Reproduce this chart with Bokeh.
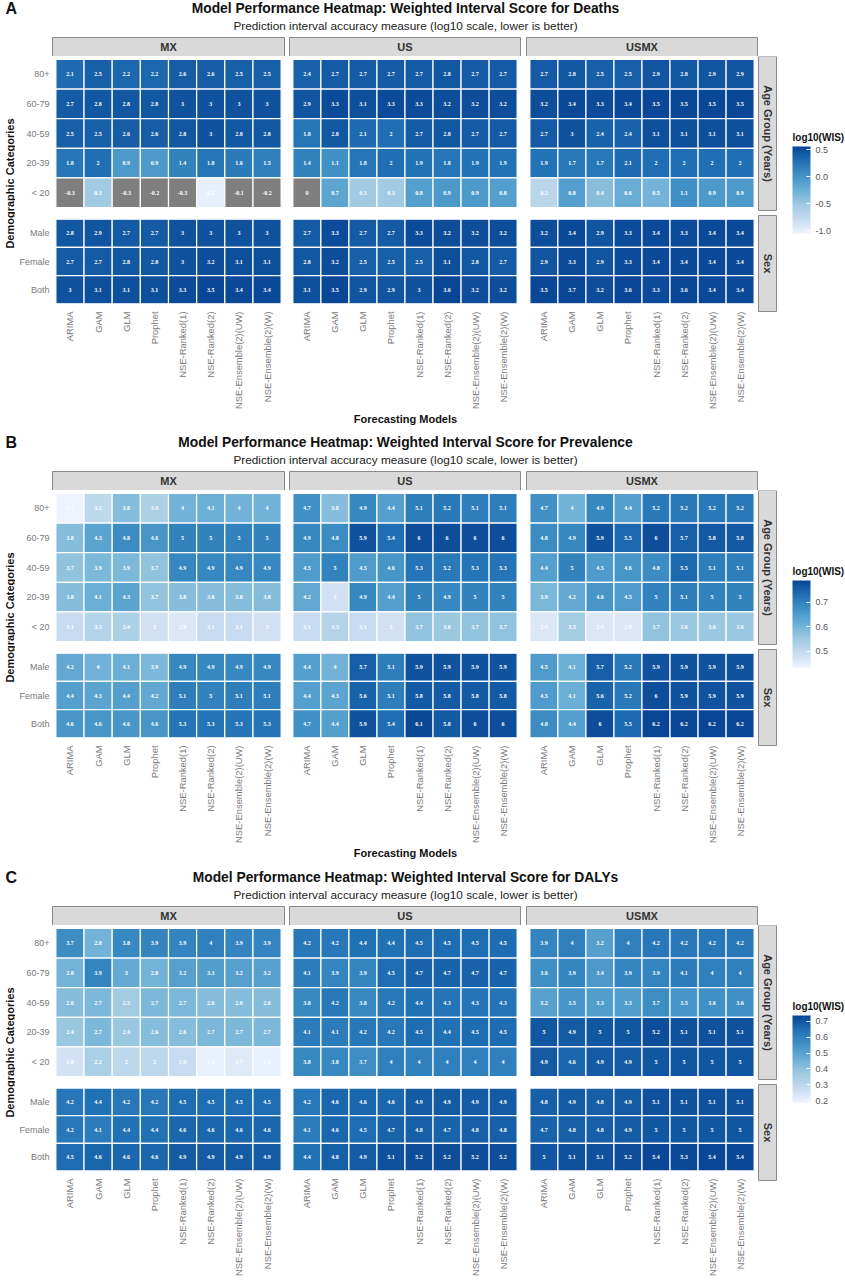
import numpy as np
from bokeh.plotting import figure
from bokeh.layouts import column, row
from bokeh.models import (ColumnDataSource, FactorRange, Range1d, Label, LinearColorMapper,
                          ColorBar, FixedTicker, PrintfTickFormatter)
from bokeh.embed import file_html
from bokeh.resources import INLINE

models = ["ARIMA", "GAM", "GLM", "Prophet", "NSE-Ranked(1)", "NSE-Ranked(2)",
          "NSE-Ensemble(2)(UW)", "NSE-Ensemble(2)(W)"]
ages = ["80+", "60-79", "40-59", "20-39", "< 20"]
sexes = ["Male", "Female", "Both"]
regions = ["MX", "US", "USMX"]

deaths_mx = [[2.1,2.5,2.2,2.2,2.6,2.6,2.5,2.5],[2.7,2.8,2.8,2.8,3,3,3,3],[2.5,2.5,2.6,2.6,2.8,3,2.8,2.8],
             [1.8,2,0.9,0.9,1.4,1.8,1.6,1.5],[-0.3,0.3,-0.3,-0.2,-0.3,0.1,-0.1,-0.2],
             [2.8,2.9,2.7,2.7,3,3,3,3],[2.7,2.7,2.8,2.8,3,3.2,3.1,3.1],[3,3.1,3.1,3.1,3.3,3.5,3.4,3.4]]
deaths_us = [[2.4,2.7,2.7,2.7,2.7,2.8,2.7,2.7],[2.9,3.3,3.1,3.3,3.3,3.2,3.2,3.2],[1.8,2.8,2.1,2,2.7,2.8,2.7,2.7],
             [1.4,1.1,1.8,2,1.9,1.8,1.9,1.9],[0,0.7,0.3,0.3,0.8,0.9,0.9,0.8],
             [2.7,3.3,2.7,2.7,3.3,3.2,3.2,3.2],[2.8,3.2,2.5,2.5,2.5,3.1,2.8,2.7],[3.1,3.5,2.9,2.9,3,3.6,3.2,3.2]]
deaths_usmx = [[2.7,2.8,2.5,2.5,2.9,2.8,2.9,2.9],[3.2,3.4,3.3,3.4,3.5,3.5,3.5,3.5],[2.7,3,2.4,2.4,3.1,3.1,3.1,3.1],
               [1.9,1.7,1.7,2.1,2,2,2,2],[0.2,0.8,0.4,0.6,0.5,1.1,0.9,0.9],
               [3.2,3.4,2.9,3.3,3.4,3.3,3.4,3.4],[2.9,3.3,2.9,3.3,3.4,3.4,3.4,3.4],[3.5,3.7,3.2,3.6,3.3,3.6,3.4,3.4]]
prev_mx = [[2.7,3.2,3.8,3.4,4,4.1,4,4],[3.8,4.3,4.8,4.6,5,5,5,5],[3.7,3.9,3.9,3.7,4.9,4.9,4.9,4.9],
           [3.8,4.1,4.3,3.7,3.8,3.8,3.8,3.8],[3.1,3.3,3.4,3,2.9,3.1,3.1,3],
           [4.2,4,4.1,3.9,4.9,4.9,4.9,4.9],[4.4,4.3,4.4,4.2,5.1,5,5.1,5.1],[4.6,4.6,4.6,4.6,5.3,5.3,5.3,5.3]]
prev_us = [[4.7,3.8,4.9,4.4,5.1,5.2,5.1,5.1],[4.9,4.8,5.9,5.4,6,6,6,6],[4.5,5,4.5,4.6,5.3,5.2,5.3,5.3],
           [4.2,3,4.9,4.4,5,4.9,5,5],[3.1,3.3,3.1,3,3.7,3.6,3.7,3.7],
           [4.4,4,5.7,5.1,5.9,5.9,5.9,5.9],[4.4,4.3,5.6,5.1,5.8,5.8,5.8,5.8],[4.7,4.4,5.9,5.4,6.1,5.8,6,6]]
prev_usmx = [[4.7,4,4.9,4.4,5.2,5.2,5.2,5.2],[4.8,4.9,5.9,5.5,6,5.7,5.8,5.8],[4.4,5,4.5,4.6,4.8,5.5,5.1,5.1],
             [3.9,4.2,4.6,4.5,5,5.1,5,5],[2.9,3.5,2.9,2.9,3.7,3.6,3.6,3.6],
             [4.5,4.1,5.7,5.2,5.9,5.9,5.9,5.9],[4.5,4.1,5.6,5.2,6,5.9,5.9,5.9],[4.8,4.4,6,5.5,6.2,6.2,6.2,6.2]]
dalys_mx = [[3.7,2.8,3.8,3.9,3.9,4,3.9,3.9],[2.8,3.9,3,2.8,3.2,3.3,3.2,3.2],[2.6,2.7,2.3,2.7,2.7,2.6,2.6,2.6],
            [2.4,2.7,2.4,2.6,2.6,2.7,2.7,2.7],[1.8,2.2,2,2,1.9,1.6,1.7,1.6],
            [4.2,4.4,4.2,4.2,4.5,4.5,4.5,4.5],[4.2,4.1,4.4,4.4,4.6,4.6,4.6,4.6],[4.5,4.6,4.6,4.6,4.9,4.9,4.9,4.9]]
dalys_us = [[4.2,4.2,4.4,4.4,4.5,4.5,4.5,4.5],[4.1,3.9,3.9,4.5,4.7,4.7,4.7,4.7],[3.8,4.2,3.8,4.2,4.4,4.3,4.3,4.3],
            [4.1,4.1,4.2,4.2,4.5,4.4,4.5,4.5],[3.8,3.8,3.7,4,4,4,4,4],
            [4.2,4.6,4.6,4.6,4.9,4.9,4.9,4.9],[4.1,4.6,4.5,4.7,4.8,4.7,4.8,4.8],[4.4,4.8,4.9,5.1,5.2,5.2,5.2,5.2]]
dalys_usmx = [[3.9,4,3.2,4,4.2,4.2,4.2,4.2],[3.6,3.9,3.4,3.9,3.9,4.1,4,4],[3.2,3.5,3.3,3.3,3.7,3.5,3.6,3.6],
              [5,4.9,5,5,5.2,5.1,5.1,5.1],[4.9,4.6,4.9,4.9,5,5,5,5],
              [4.8,4.9,4.8,4.9,5.1,5.1,5.1,5.1],[4.7,4.8,4.8,4.9,5,5,5,5],[5,5.1,5.1,5.2,5.4,5.3,5.4,5.4]]

FONT = "Liberation Sans"
blues = ["#EFF3FF", "#C6DBEF", "#9ECAE1", "#6BAED6", "#4292C6", "#2171B5", "#084594"]
_rgb = np.array([[int(c[i:i+2], 16) for i in (1, 3, 5)] for c in blues], float)
_t = np.linspace(0, 1, 256)
palette = ["#%02x%02x%02x" % tuple(int(round(np.interp(t, np.linspace(0, 1, 7), _rgb[:, k]))) for k in range(3))
           for t in _t]

panels = [
    dict(letter="A", name="Deaths", data=[deaths_mx, deaths_us, deaths_usmx], low=-1.05, high=0.56,
         ticks=[-1.0, -0.5, 0.0, 0.5], below=100, foot=23, foot_y=7),
    dict(letter="B", name="Prevalence", data=[prev_mx, prev_us, prev_usmx], low=0.433, high=0.79,
         ticks=[0.5, 0.6, 0.7], below=100, foot=24, foot_y=7.5),
    dict(letter="C", name="DALYs", data=[dalys_mx, dalys_us, dalys_usmx], low=0.19, high=0.735,
         ticks=[0.2, 0.3, 0.4, 0.5, 0.6, 0.7], below=98, foot=4, foot_y=3),
]

AGE_H, SEX_H, GAP = 154, 96, 5
W = 845
YLAB_W = 15


def blank(width, height, xr, yr):
    f = figure(width=width, height=height, x_range=xr, y_range=yr, toolbar_location=None,
               output_backend="svg", x_axis_location=None, y_axis_location=None,
               min_border=0, outline_line_color=None)
    f.grid.visible = False
    return f


def text(f, x, y, s, size, bold=False, color="#000000", align="center", angle=0):
    f.add_layout(Label(x=x, y=y, text=s, text_font=FONT, text_font_size=f"{size}px",
                       text_font_style="bold" if bold else "normal", text_color=color,
                       text_align=align, text_baseline="middle", angle=angle))


def facet(values, rows_, mapper, width, height, left, y_axis, below, pad_top):
    data = dict(x=[], y=[], v=[], t=[])
    for r, line in zip(rows_, values):
        for m, val in zip(models, line):
            data["x"].append(m)
            data["y"].append(r)
            data["v"].append(float(np.log10(val)) if val > 0 else float("nan"))
            data["t"].append(f"{val:g}")
    src = ColumnDataSource(data)
    ypad = 0.04 if len(rows_) == 5 else 0.087
    f = figure(width=width, height=height, toolbar_location=None, output_backend="svg",
               x_range=FactorRange(factors=models, range_padding=0.03),
               y_range=FactorRange(factors=rows_[::-1], range_padding=ypad),
               x_axis_location="below" if below else None,
               y_axis_location="left" if y_axis else None,
               min_border_left=left, min_border_right=0, min_border_top=pad_top,
               min_border_bottom=below, outline_line_color=None)
    f.grid.visible = False
    f.rect("x", "y", width=1, height=1, source=src, fill_color={"field": "v", "transform": mapper},
           line_color="#ffffff", line_width=1.2)
    f.text("x", "y", text="t", source=src, text_color="#ffffff", text_font=FONT, text_font_size="6px",
           text_font_style="bold", text_align="center", text_baseline="middle")
    for ax in f.axis:
        ax.axis_line_color = None
        ax.major_tick_line_color = None
        ax.minor_tick_line_color = None
        ax.major_tick_out = 0
        ax.major_tick_in = 0
        ax.minor_tick_out = 0
        ax.minor_tick_in = 0
        ax.major_label_text_font = FONT
        ax.major_label_text_color = "#7a7a7a"
    if y_axis:
        f.yaxis.major_label_text_font_size = "9px"
        f.yaxis.major_label_standoff = 3
    if below:
        f.xaxis.major_label_text_font_size = "9.4px"
        f.xaxis.major_label_standoff = 4
        f.xaxis.major_label_orientation = np.pi / 2
    return f


layout_items = []
for pn in panels:
    mapper = LinearColorMapper(palette=palette, low=pn["low"], high=pn["high"], nan_color="#7f7f7f")
    body_h = AGE_H + GAP + SEX_H + pn["below"]

    band = blank(W, 56, Range1d(0, W), Range1d(56, 0))
    band.quad(left=[52, 289, 526], right=[284, 520, 757], top=[37] * 3, bottom=[56] * 3,
              fill_color="#d9d9d9", line_color="#8a8a8a", line_width=1)
    text(band, 405, 7.5, f"Model Performance Heatmap: Weighted Interval Score for {pn['name']}", 13.8, True, "#111111")
    text(band, 405, 25, "Prediction interval accuracy measure (log10 scale, lower is better)", 11.8, False, "#222222")
    text(band, 5, 8, pn["letter"], 16, True, "#111111", align="left")
    for cx, reg in zip([168, 404.5, 641.5], regions):
        text(band, cx, 46.5, reg, 11, True, "#333333")

    ylab = blank(YLAB_W, body_h, Range1d(0, YLAB_W), Range1d(body_h, 0))
    text(ylab, 9.5, 127, "Demographic Categories", 11, True, "#111111", angle=np.pi / 2)

    cols = []
    for k, (vals, w, left) in enumerate(zip(pn["data"], [284 - YLAB_W, 236, 237], [52 - YLAB_W, 5, 6])):
        top = facet(vals[:5], ages, mapper, w, AGE_H, left, k == 0, 0, 0)
        bot = facet(vals[5:], sexes, mapper, w, GAP + SEX_H + pn["below"], left, k == 0, pn["below"], GAP)
        cols.append(column(top, bot, spacing=0))

    side = blank(88, body_h, Range1d(757, 845), Range1d(body_h, 0))
    side.quad(left=[758, 758], right=[776, 776], top=[0, AGE_H + GAP], bottom=[AGE_H, AGE_H + GAP + SEX_H],
              fill_color="#d9d9d9", line_color="#8a8a8a", line_width=1)
    text(side, 767, AGE_H / 2, "Age Group (Years)", 11, True, "#333333", angle=-np.pi / 2)
    text(side, 767, AGE_H + GAP + SEX_H / 2, "Sex", 11, True, "#333333", angle=-np.pi / 2)
    text(side, 792, 81, "log10(WIS)", 10, True, "#111111", align="left")
    cb = ColorBar(color_mapper=mapper, location=(35, body_h - 177), width=18, height=87,
                  ticker=FixedTicker(ticks=pn["ticks"]), formatter=PrintfTickFormatter(format="%.1f"),
                  major_label_text_font=FONT, major_label_text_font_size="9px",
                  major_label_text_color="#555555", major_tick_line_color="#ffffff", major_tick_in=4,
                  minor_tick_line_color=None, bar_line_color=None, padding=0, label_standoff=5,
                  background_fill_alpha=0, border_line_color=None)
    side.add_layout(cb)

    foot = blank(W, pn["foot"], Range1d(0, W), Range1d(pn["foot"], 0))
    text(foot, 405, pn["foot_y"], "Forecasting Models", 11, True, "#111111")

    layout_items.append(column(band, row(ylab, *cols, side, spacing=0), foot, spacing=0))

p = column(*layout_items, spacing=0)
open("out.html", "w").write(file_html(p, INLINE))
